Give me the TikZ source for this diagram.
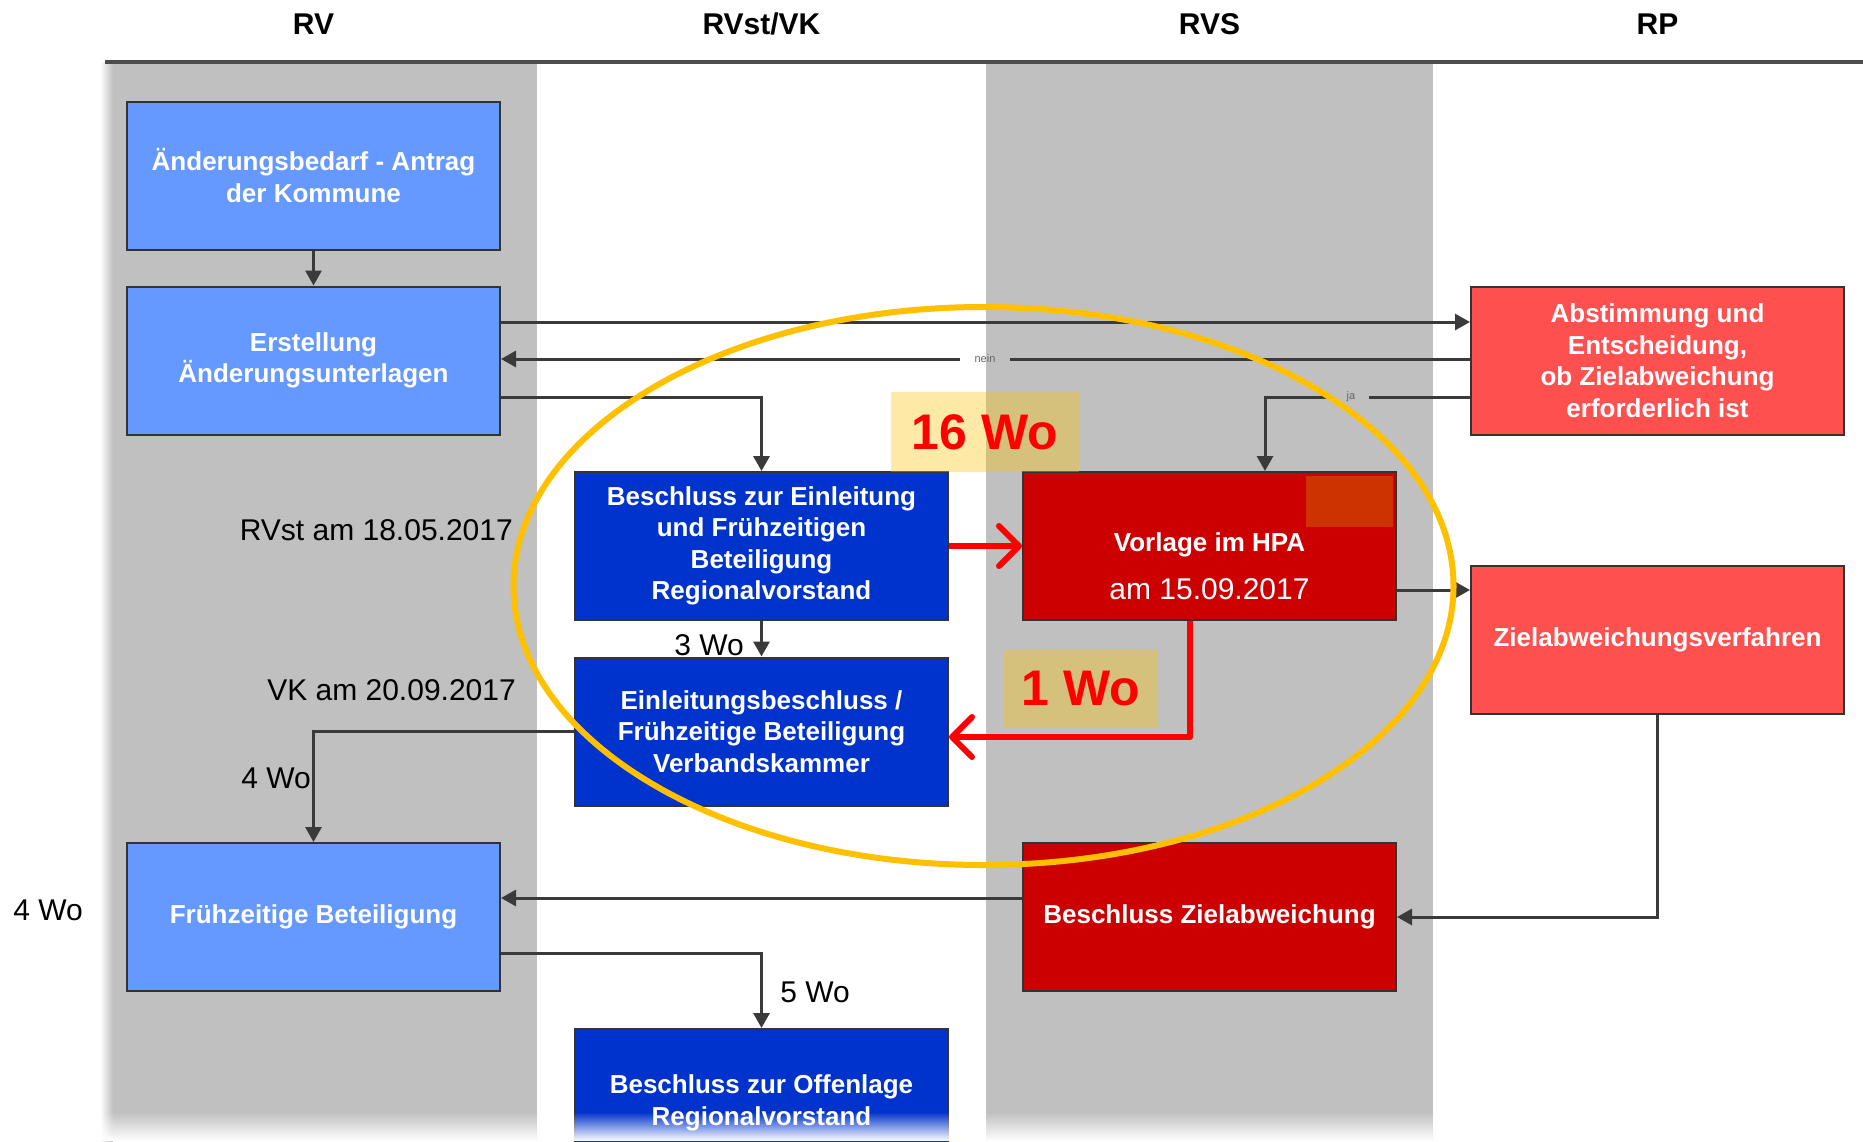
\documentclass[tikz,border=0pt]{standalone}
\usepackage{fontspec}
\setmainfont{Liberation Sans}
\usetikzlibrary{arrows.meta,fadings}
\definecolor{lblue}{HTML}{6699FF}
\definecolor{dblue}{HTML}{0033CC}
\definecolor{dred}{HTML}{CC0000}
\definecolor{salmon}{HTML}{FF5050}
\definecolor{lanegray}{HTML}{C0C0C0}
\definecolor{gold}{HTML}{FFC000}
\definecolor{conncol}{HTML}{3A3A3A}
\definecolor{patch}{HTML}{CC3300}
\begin{document}
\begin{tikzpicture}[x=1pt,y=-1pt,
  box/.style={draw=black!80, line width=2pt, minimum width=373pt, minimum height=148pt,
    inner sep=0pt, align=center, text=white, font=\fontsize{26}{31.5}\selectfont\bfseries},
  hdr/.style={font=\fontsize{30}{36}\selectfont\bfseries, text=black},
  lbl/.style={font=\fontsize{30}{36}\selectfont, text=black, inner sep=0pt},
  tiny/.style={font=\fontsize{11}{13}\selectfont, text=black!60, inner xsep=14pt, inner ysep=0pt},
  conn/.style={draw=conncol, line width=3pt, -{Triangle[length=15pt,width=16pt]}},
  connplain/.style={draw=conncol, line width=3pt},
  redarr/.style={draw=red, line width=6pt, line join=round,
    -{Straight Barb[length=20pt,width=40pt,round]}},
  hl/.style={fill=gold, fill opacity=0.35, text opacity=1, text=red, inner sep=0pt,
    font=\fontsize{50}{60}\selectfont\bfseries}
]
\useasboundingbox (0,0) rectangle (1863,1141);
\fill[white] (0,0) rectangle (1863,1141);
% lanes
\fill[lanegray] (113,62) rectangle (537,1141);
\fill[lanegray] (986,62) rectangle (1433,1141);
\fill[lanegray, path fading=west] (100,62) rectangle (113,1141);
\draw[black!70, line width=4pt] (105,62) -- (1863,62);
% headers
\node[hdr] (hRV) at (313.5,24) {RV};
\node[hdr] (hRVst) at (761.5,24) {RVst/VK};
\node[hdr] (hRVS) at (1209.5,24) {RVS};
\node[hdr] (hRP) at (1657.5,24) {RP};
% routing coordinates
\coordinate (r322) at (0,322);
\coordinate (r397) at (0,397);
\coordinate (r590) at (0,590);
\coordinate (r737) at (0,737);
\coordinate (r898) at (0,898);
\coordinate (r953) at (0,953);
\coordinate (x1265) at (1265,0);
\coordinate (x1190) at (1190,0);
% boxes
\node[box, fill=lblue] (A1) at (313.5,175.5) {Änderungsbedarf - Antrag\\der Kommune};
\node[box, fill=lblue] (A2) at (313.5,360.5) {Erstellung\\Änderungsunterlagen};
\node[box, fill=lblue] (A3) at (313.5,917) {Frühzeitige Beteiligung};
\node[box, fill=dblue] (B1) at (761.5,546) {Beschluss zur Einleitung\\und Frühzeitigen\\Beteiligung\\Regionalvorstand};
\node[box, fill=dblue] (B2) at (761.5,731.5) {Einleitungsbeschluss /\\Frühzeitige Beteiligung\\Verbandskammer};
\node[box, fill=dblue] (B3) at (761.5,1103) {Beschluss zur Offenlage\\Regionalvorstand};
\node[box, fill=dred] (C1) at (1209.5,546) {};
\fill[patch] (1306,476) rectangle (1393,527);
\node[text=white, font=\fontsize{26}{31}\selectfont\bfseries] (C1a) at (1209.5,545) {Vorlage im HPA};
\node[text=white, font=\fontsize{30}{36}\selectfont] (C1b) at (1209.5,589) {am 15.09.2017};
\node[box, fill=dred] (C2) at (1209.5,917) {Beschluss Zielabweichung};
\node[box, fill=salmon] (D1) at (1657.5,360.5) {Abstimmung und\\Entscheidung,\\ob Zielabweichung\\erforderlich ist};
\node[box, fill=salmon] (D2) at (1657.5,640) {Zielabweichungsverfahren};
% connectors
\draw[conn] (A1) -- (A2);
\draw[conn] (A2.east |- r322) -- (D1.west |- r322);
\node[tiny] (nein) at (985,359) {nein};
\draw[connplain] (D1.west |- nein) -- (nein.east);
\draw[conn] (nein.west) -- (A2.east |- nein);
\draw[conn] (A2.east |- r397) -| (B1.north);
\node[tiny] (ja) at (1351,397) {ja};
\draw[connplain] (D1.west |- ja) -- (ja.east);
\draw[conn] (ja.west) -| (C1.north -| x1265);
\draw[conn] (B1) -- (B2);
\draw[conn] (C1.east |- r590) -- (D2.west |- r590);
\draw[conn] (B2.west) -| (A3.north);
\draw[conn] (D2.south) |- (C2.east);
\draw[conn] (C2.west |- r898) -- (A3.east |- r898);
\draw[conn] (A3.east |- r953) -| (B3.north);
% labels
\node[lbl] (w3) at (709,645) {3 Wo};
\node[lbl] (w4a) at (276,778) {4 Wo};
\node[lbl] (w5) at (815,992) {5 Wo};
\node[lbl] (w4b) at (48,910) {4 Wo};
\node[lbl, anchor=east] (rvst) at (513,530) {RVst am 18.05.2017};
\node[lbl, anchor=east] (vk) at (516,690) {VK am 20.09.2017};
% highlights
\node[hl, minimum width=188pt, minimum height=80pt] (h16) at (985,432) {16 Wo};
\node[hl, minimum width=154pt, minimum height=78pt] (h1) at (1081,689) {1 Wo};
\draw[redarr] (B1) -- (C1);
\draw[redarr] (C1.south -| x1190) |- (B2.east |- r737);
% bottom fade
\fill[white, path fading=north] (0,1112) rectangle (1863,1141);
% ellipse
\draw[gold, line width=6pt] (983.5,586) ellipse [x radius=470pt, y radius=279pt];
\end{tikzpicture}
\end{document}
